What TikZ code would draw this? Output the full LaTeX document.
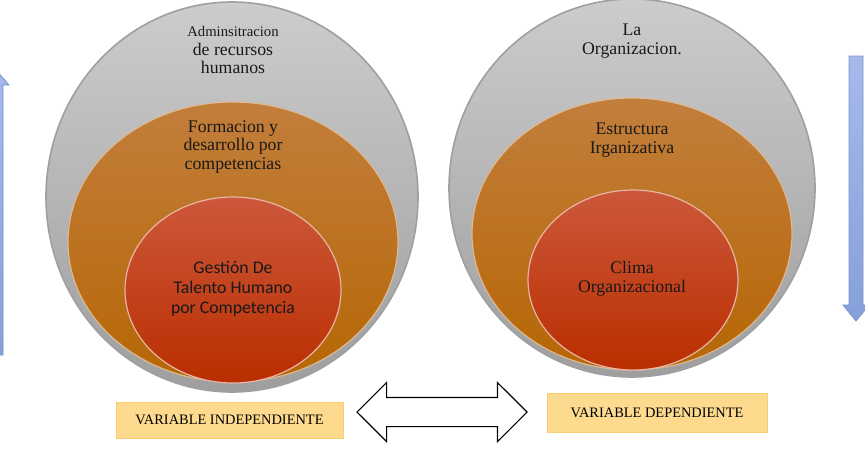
\documentclass[tikz,border=0pt]{standalone}
\usepackage{fontspec}
\setmainfont{Liberation Serif}
\newfontfamily\calibri{Carlito}
\usetikzlibrary{shapes.geometric, shapes.arrows, positioning}

\definecolor{grisA}{RGB}{204,204,204}
\definecolor{grisB}{RGB}{158,158,158}
\definecolor{naranjaA}{RGB}{194,126,60}
\definecolor{naranjaB}{RGB}{182,102,4}
\definecolor{rojoA}{RGB}{204,88,58}
\definecolor{rojoB}{RGB}{186,46,0}
\definecolor{azulA}{RGB}{166,186,234}
\definecolor{azulB}{RGB}{134,160,218}
\definecolor{azulC}{RGB}{118,144,208}
\definecolor{cajaFondo}{RGB}{253,218,142}
\definecolor{cajaBorde}{RGB}{250,206,110}

\newcommand{\pix}{0.75pt}

\tikzset{
  capa/.style={ellipse, inner sep=0pt, shading=axis, shading angle=0},
  gris/.style={capa, top color=grisA, bottom color=grisB, draw=gray!75, line width=1.2pt},
  naranja/.style={capa, top color=naranjaA, bottom color=naranjaB, draw=naranjaA!55!white, line width=0.9pt},
  rojo/.style={capa, top color=rojoA, bottom color=rojoB, draw=rojoA!45!white, line width=0.9pt},
  texto/.style={align=center, text=black!90, font=\fontsize{13.3}{14.2}\selectfont},
  caja/.style={fill=cajaFondo, draw=cajaBorde, line width=0.6pt, inner sep=0pt,
    font=\fontsize{10.8}{12}\selectfont},
  azul/.style={top color=azulA, bottom color=azulB, draw=azulC, line width=0.6pt}
}

\begin{document}
\begin{tikzpicture}[x=\pix, y=-\pix]
        \useasboundingbox (0,0) rectangle (865,458);

        % Flechas laterales
        \shade[azul] (-11,355) -- (-11,85) -- (-17,85) -- (-4,70) -- (9,85) -- (3,85) -- (3,355) -- cycle;
        \shade[azul] (849,56) -- (863,56) -- (863,305) -- (869,305) -- (856,321) -- (843,305) -- (849,305) -- cycle;

        % Variable independiente
        \node[gris, minimum width=372*\pix, minimum height=390*\pix] (adm) at (232,197) {};
        \node[naranja, minimum width=330*\pix, minimum height=280*\pix] (form) at (233,242) {};
        \node[rojo, minimum width=216*\pix, minimum height=186*\pix] (gest) at (233,290) {};
        \node[texto] (tadm) at (233,50) {{\fontsize{11}{13}\selectfont Adminsitracion}\\de recursos\\humanos};
        \node[texto] (tform) at (233,147) {Formacion y\\desarrollo por\\competencias};
        \node[texto, font=\calibri\fontsize{13.3}{15}\selectfont] (tgest) at (233,289) {Gestión De\\Talento Humano\\por Competencia};

        % Variable dependiente
        \node[gris, minimum width=366*\pix, minimum height=378*\pix] (org) at (632,188) {};
        \node[naranja, minimum width=320*\pix, minimum height=272*\pix] (estr) at (632,234) {};
        \node[rojo, minimum width=210*\pix, minimum height=180*\pix] (clima) at (633,280) {};
        \node[texto] (torg) at (632,41) {La\\Organizacion.};
        \node[texto] (testr) at (632,140) {Estructura\\Irganizativa};
        \node[texto] (tclima) at (632,279) {Clima\\Organizacional};

        % Etiquetas
        \node[caja, minimum width=227*\pix, minimum height=36*\pix] (vi) at (229.5,420) {VARIABLE INDEPENDIENTE};
        \node[caja, minimum width=220*\pix, minimum height=39*\pix] (vd) at (657,412.5) {VARIABLE DEPENDIENTE};
        \node[double arrow, draw=black, fill=white, line width=0.8pt, inner xsep=0pt, inner ysep=14*\pix,
          minimum height=170*\pix, double arrow head extend=15*\pix] (rel) at (442,412) {};
    \end{tikzpicture}
\end{document}
